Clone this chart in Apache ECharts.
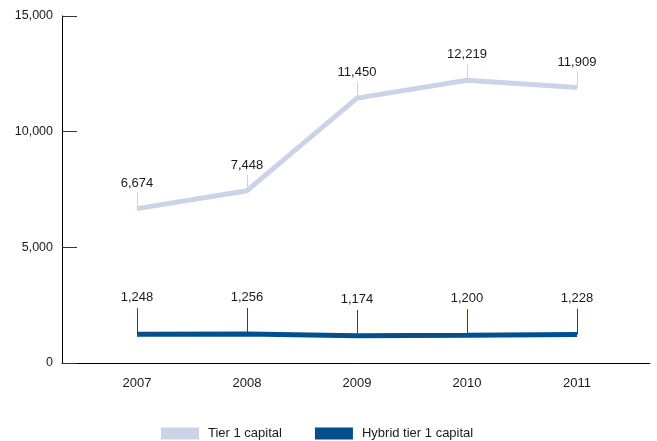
<!DOCTYPE html>
<html>
<head>
<meta charset="utf-8">
<script src="https://cdn.jsdelivr.net/npm/echarts@6/dist/echarts.min.js"></script>
<style>
  html, body { margin: 0; padding: 0; background: #fff; }
  #chart { width: 657px; height: 441px; }
</style>
</head>
<body>
<div id="chart"></div>
<script>
// Data
const years = [2007, 2008, 2009, 2010, 2011];
const tier1Capital = [6674, 7448, 11450, 12219, 11909];
const hybridTier1Capital = [1248, 1256, 1174, 1200, 1228];
const yTicks = [0, 5000, 10000, 15000];

const FONT = 'Arial, "Liberation Sans", sans-serif';
const LIGHT = '#cdd3e6';
const DARK = '#00508f';

const fmt = v => Number(v).toLocaleString('en-US');
const pairs = vals => years.map((y, i) => [y, vals[i]]);

// leader line + value label drawn above each point
const leaderSeries = (name, vals, color, len, gap) => ({
  type: 'custom',
  name: name + ' labels',
  data: pairs(vals),
  silent: true,
  z: 3,
  renderItem: (params, api) => {
    const p = api.coord([api.value(0), api.value(1)]);
    const x = Math.round(p[0]) + 0.5; // crisp 1px line
    const top = p[1] - len;
    return {
      type: 'group',
      children: [
        {
          type: 'line',
          shape: { x1: x, y1: p[1], x2: x, y2: top },
          style: { stroke: color, lineWidth: 1 },
        },
        {
          type: 'text',
          x: p[0],
          y: top - gap,
          style: {
            text: fmt(api.value(1)),
            fill: '#1a1a1a',
            font: '13px ' + FONT,
            align: 'center',
            verticalAlign: 'bottom',
          },
        },
      ],
    };
  },
});

const chart = echarts.init(document.getElementById('chart'));

chart.setOption({
  animation: false,
  textStyle: { fontFamily: FONT },
  grid: {
    left: 62,
    right: 7,
    top: 16,
    bottom: 78,
    outerBoundsMode: 'none',
  },
  legend: {
    left: 156,
    top: 422,
    itemWidth: 38,
    itemHeight: 12,
    itemGap: 33,
    icon: 'rect',
    data: ['Tier 1 capital', 'Hybrid tier 1 capital'],
    textStyle: { fontSize: 13, color: '#1a1a1a', padding: [0, 0, 0, 4] },
    selectedMode: false,
  },
  xAxis: {
    type: 'value',
    min: 2006.318,
    max: 2011.664,
    splitLine: { show: false },
    axisTick: { show: false },
    axisLine: { lineStyle: { color: '#000', width: 1 } },
    axisLabel: {
      customValues: years,
      formatter: v => String(v),
      fontSize: 13,
      color: '#1a1a1a',
      margin: 14,
    },
  },
  yAxis: {
    type: 'value',
    min: yTicks[0],
    max: yTicks[yTicks.length - 1],
    interval: 5000,
    splitLine: { show: false },
    axisLine: { show: true, lineStyle: { color: '#000', width: 1 } },
    axisTick: { show: true, inside: true, length: 15, lineStyle: { color: '#333' } },
    axisLabel: {
      formatter: v => fmt(v),
      fontSize: 12.5,
      color: '#1a1a1a',
      margin: 9,
    },
  },
  series: [
    {
      type: 'line',
      name: 'Tier 1 capital',
      data: pairs(tier1Capital),
      showSymbol: false,
      color: LIGHT,
      lineStyle: { color: LIGHT, width: 5 },
      z: 2,
    },
    {
      type: 'line',
      name: 'Hybrid tier 1 capital',
      data: pairs(hybridTier1Capital),
      showSymbol: false,
      color: DARK,
      lineStyle: { color: DARK, width: 5 },
      z: 2,
    },
    leaderSeries('Tier 1 capital', tier1Capital, LIGHT, 16, 3),
    leaderSeries('Hybrid tier 1 capital', hybridTier1Capital, DARK, 26, 4),
  ],
});

window.addEventListener('resize', () => chart.resize());
</script>
</body>
</html>
